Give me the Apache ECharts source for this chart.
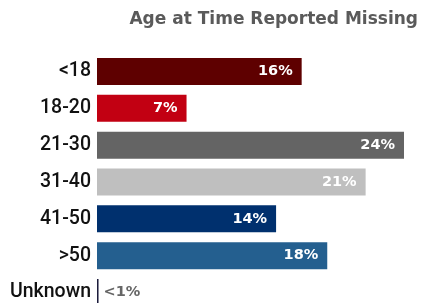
<!DOCTYPE html>
<html>
<head>
<meta charset="utf-8">
<script src="https://cdn.jsdelivr.net/npm/echarts@6/dist/echarts.min.js"></script>
<style>
  html, body { margin: 0; padding: 0; background: #fff; }
  #chart { width: 421px; height: 303px; }
</style>
</head>
<body>
<div id="chart"></div>
<script>
var categories = ['<18', '18-20', '21-30', '31-40', '41-50', '>50', 'Unknown'];
var values = [16, 7, 24, 21, 14, 18, 0.12];
var valueLabels = ['16%', '7%', '24%', '21%', '14%', '18%', '<1%'];
var barColors = ['#5e0000', '#c20012', '#646464', '#bfbfbf', '#00306e', '#245f8f', '#1c1c3c'];

var myChart = echarts.init(document.getElementById('chart'));

var barData = [];
for (var i = 0; i < values.length; i++) {
    var unknown = i === values.length - 1;
    barData.push({
        value: values[i],
        itemStyle: { color: barColors[i] },
        label: unknown ? {
            position: 'right',
            distance: 5,
            color: '#666666'
        } : {}
    });
}

var option = {
    animation: false,
    title: {
        text: 'Age at Time Reported Missing',
        right: 3,
        top: 11,
        padding: 0,
        textStyle: {
            fontFamily: 'DejaVu Sans',
            fontWeight: 'bold',
            fontSize: 17,
            color: '#5a5a5a'
        }
    },
    grid: {
        left: 97,
        right: 17,
        top: 53,
        height: 258,
        outerBoundsMode: 'none'
    },
    xAxis: {
        type: 'value',
        min: 0,
        max: 24,
        show: false
    },
    yAxis: {
        type: 'category',
        data: categories,
        inverse: true,
        axisLine: { show: false },
        axisTick: { show: false },
        axisLabel: {
            margin: 6,
            color: '#111111',
            fontFamily: 'Roboto',
            fontWeight: 500,
            fontSize: 19.5
        }
    },
    series: [{
        type: 'bar',
        data: barData,
        barWidth: 27,
        label: {
            show: true,
            position: 'insideRight',
            distance: 9,
            color: '#ffffff',
            fontFamily: 'DejaVu Sans',
            fontWeight: 'bold',
            fontSize: 14.5,
            formatter: function (p) { return valueLabels[p.dataIndex]; }
        }
    }]
};

myChart.setOption(option);
</script>
</body>
</html>
